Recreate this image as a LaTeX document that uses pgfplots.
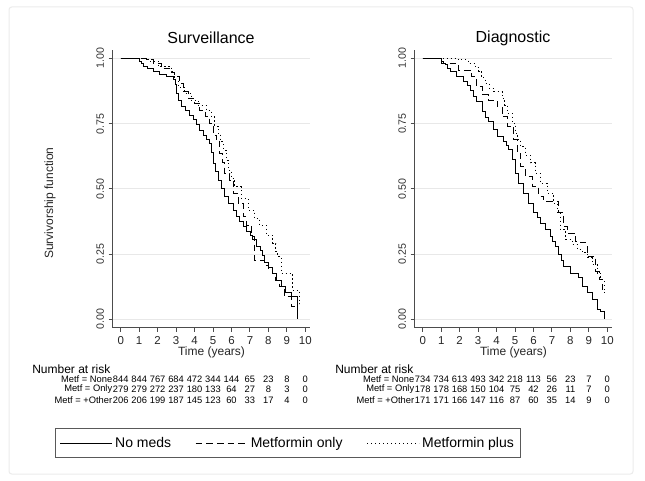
\documentclass[border=0pt]{standalone}
\usepackage{fontspec}
\setmainfont{Liberation Sans}
\usepackage{pgfplots}
\usepackage{pgfplotstable}
\pgfplotsset{compat=1.18}

% Surveillance
\pgfplotstableread{
x y
0 1.000
1.00 0.990
1.10 0.980
1.22 0.970
1.45 0.960
1.76 0.949
2.10 0.940
2.48 0.932
2.88 0.920
2.98 0.900
3.02 0.866
3.15 0.840
3.29 0.815
3.50 0.800
3.74 0.783
3.92 0.765
4.10 0.745
4.28 0.725
4.46 0.706
4.62 0.690
4.78 0.674
4.92 0.640
5.00 0.598
5.12 0.565
5.27 0.534
5.45 0.500
5.63 0.470
5.85 0.445
6.08 0.419
6.25 0.395
6.44 0.374
6.62 0.355
6.80 0.336
7.00 0.320
7.16 0.305
7.34 0.280
7.55 0.265
7.70 0.245
7.79 0.220
8.00 0.200
8.24 0.176
8.45 0.150
8.69 0.125
8.90 0.105
9.23 0.087
9.58 0.000
}\SurvNone
\pgfplotstableread{
x y
0 1.000
1.40 0.994
1.76 0.980
2.21 0.960
2.75 0.945
2.93 0.930
3.20 0.904
3.38 0.872
3.65 0.847
4.01 0.828
4.28 0.800
4.60 0.776
4.82 0.751
5.00 0.706
5.18 0.687
5.36 0.636
5.50 0.600
5.63 0.559
5.90 0.534
6.08 0.483
6.35 0.444
6.62 0.393
6.80 0.361
7.07 0.317
7.25 0.227
7.79 0.208
8.00 0.190
8.24 0.176
8.40 0.150
8.60 0.125
8.87 0.087
9.23 0.049
9.55 0.049
}\SurvOnly
\pgfplotstableread{
x y
0 1.000
1.50 0.990
2.03 0.968
2.75 0.949
2.93 0.917
3.11 0.890
3.47 0.866
3.83 0.840
4.19 0.820
4.64 0.800
4.91 0.776
5.10 0.740
5.27 0.713
5.40 0.680
5.54 0.649
5.70 0.610
5.81 0.572
6.00 0.540
6.17 0.508
6.53 0.464
6.89 0.419
7.25 0.387
7.52 0.361
7.88 0.323
8.24 0.291
8.40 0.260
8.50 0.240
8.69 0.176
9.32 0.112
9.68 0.060
9.70 0.060
}\SurvPlus

% Diagnostic
\pgfplotstableread{
x y
0 1.000
1.00 0.990
1.10 0.980
1.21 0.975
1.35 0.960
1.49 0.949
1.85 0.930
2.21 0.911
2.40 0.895
2.57 0.879
2.75 0.855
2.93 0.834
3.21 0.796
3.40 0.775
3.57 0.758
3.84 0.726
4.02 0.700
4.38 0.680
4.52 0.665
4.66 0.650
4.84 0.611
5.02 0.560
5.20 0.522
5.47 0.484
5.74 0.446
6.01 0.408
6.20 0.390
6.38 0.369
6.65 0.344
6.92 0.318
7.05 0.300
7.19 0.280
7.37 0.248
7.50 0.225
7.64 0.204
8.00 0.178
8.46 0.159
8.64 0.127
8.91 0.102
9.18 0.076
9.46 0.038
9.64 0.032
9.82 0.000
}\DiagNone
\pgfplotstableread{
x y
0 1.000
1.00 0.980
1.94 0.955
2.66 0.930
2.93 0.892
3.21 0.860
3.57 0.840
4.02 0.815
4.29 0.777
4.57 0.739
4.93 0.688
5.11 0.637
5.29 0.586
5.56 0.548
5.92 0.510
6.29 0.471
6.56 0.452
7.37 0.408
7.64 0.357
7.83 0.331
8.28 0.300
8.55 0.293
8.90 0.242
9.37 0.185
9.55 0.153
9.73 0.115
9.78 0.115
}\DiagOnly
\pgfplotstableread{
x y
0 1.000
1.94 0.994
2.48 0.980
2.84 0.965
3.03 0.949
3.20 0.925
3.39 0.904
3.60 0.885
3.84 0.873
4.29 0.847
4.45 0.820
4.57 0.790
4.84 0.752
5.02 0.713
5.15 0.690
5.29 0.662
5.56 0.630
5.83 0.600
6.10 0.560
6.38 0.522
6.74 0.484
7.10 0.446
7.28 0.408
7.46 0.344
7.74 0.306
8.10 0.287
8.37 0.268
8.64 0.255
8.91 0.236
9.18 0.210
9.46 0.178
9.64 0.153
9.82 0.102
9.85 0.102
}\DiagPlus

\pgfplotsset{
  kmaxis/.style={
    scale only axis, width=147.75pt, height=208.125pt,
    xmin=-0.44, xmax=10.23, ymin=-0.031, ymax=1.032,
    axis lines*=left,
    axis line style={black!70, line width=0.75pt},
    xtick={0,1,...,10}, ytick={0,0.25,0.5,0.75,1},
    tick align=outside, major tick length=3pt,
    tick style={black!70, line width=0.75pt},
    ymajorgrids, grid style={black!9, line width=0.75pt},
    /pgf/number format/assume math mode=true,
    yticklabel style={/pgf/number format/fixed, /pgf/number format/fixed zerofill,
      /pgf/number format/precision=2, rotate=90, anchor=south,
      font=\fontsize{8}{9}\selectfont, text=black!80},
    xticklabel style={font=\fontsize{8.6}{10}\selectfont, text=black!85},
    clip=false,
  },
  snone/.style={const plot, black, line width=0.65pt},
  sonly/.style={const plot, black, line width=0.65pt, dash pattern=on 5pt off 3pt},
  splus/.style={const plot, black, line width=0.65pt, dash pattern=on 1pt off 2pt},
}

\begin{document}
\begin{tikzpicture}
\begin{scope}[x=0.75pt,y=-0.75pt]
\path[use as bounding box] (0,0) rectangle (645,481);
\draw[black!8, line width=0.75pt, rounded corners=2pt] (9,7) rectangle (633,474);
\end{scope}

\begin{axis}[kmaxis, at={(84.45pt,-245.625pt)}, anchor=south west,
  legend style={at={(axis description cs:0.891,-0.416)}, anchor=center,
    legend columns=3, draw=black!65, line width=0.75pt,
    font=\fontsize{10.5}{12}\selectfont, inner ysep=4.5pt, inner xsep=3pt,
    /tikz/every even column/.append style={column sep=16pt}},
  legend image code/.code={\draw[#1] (0pt,0pt) -- (39pt,0pt);}]
\addplot[snone] table {\SurvNone};
\addlegendentry{No meds}
\addplot[sonly] table {\SurvOnly};
\addlegendentry{Metformin only}
\addplot[splus] table {\SurvPlus};
\addlegendentry{Metformin plus}
\end{axis}

\begin{axis}[kmaxis, at={(310.95pt,-245.625pt)}, anchor=south west]
\addplot[snone] table {\DiagNone};
\addplot[sonly] table {\DiagOnly};
\addplot[splus] table {\DiagPlus};
\end{axis}

\begin{scope}[x=0.75pt,y=-0.75pt]
\node[font=\fontsize{12}{14}\selectfont] at (211,38) {Surveillance};
\node[font=\fontsize{12}{14}\selectfont] at (513,38) {Diagnostic};
\node[font=\fontsize{9}{11}\selectfont, rotate=90, text=black!85] at (50,203) {Survivorship function};
\node[font=\fontsize{9}{11}\selectfont, text=black!85] at (211.5,352) {Time (years)};
\node[font=\fontsize{9}{11}\selectfont, text=black!85] at (513.5,352) {Time (years)};
\node[font=\fontsize{9}{11}\selectfont, anchor=west, inner sep=0pt] at (32,369) {Number at risk};
\node[font=\fontsize{9}{11}\selectfont, anchor=west, inner sep=0pt] at (335,369) {Number at risk};
\begin{scope}[every node/.style={font=\fontsize{7}{8}\selectfont, inner sep=0pt}]
\node[anchor=east] at (112.5,379) {Metf = None};
\node[anchor=east] at (112.5,389.5) {Metf = Only};
\node[anchor=east] at (112.5,400) {Metf = +Other};
\foreach \v [count=\i from 0] in {844,844,767,684,472,344,144,65,23,8,0}
  \node at ({120.7+18.46*\i},379) {\v};
\foreach \v [count=\i from 0] in {279,279,272,237,180,133,64,27,8,3,0}
  \node at ({120.7+18.46*\i},389.5) {\v};
\foreach \v [count=\i from 0] in {206,206,199,187,145,123,60,33,17,4,0}
  \node at ({120.7+18.46*\i},400) {\v};
\node[anchor=east] at (414.5,379) {Metf = None};
\node[anchor=east] at (414.5,389.5) {Metf = Only};
\node[anchor=east] at (414.5,400) {Metf = +Other};
\foreach \v [count=\i from 0] in {734,734,613,493,342,218,113,56,23,7,0}
  \node at ({422.7+18.46*\i},379) {\v};
\foreach \v [count=\i from 0] in {178,178,168,150,104,75,42,26,11,7,0}
  \node at ({422.7+18.46*\i},389.5) {\v};
\foreach \v [count=\i from 0] in {171,171,166,147,116,87,60,35,14,9,0}
  \node at ({422.7+18.46*\i},400) {\v};
\end{scope}
\end{scope}
\end{tikzpicture}
\end{document}
